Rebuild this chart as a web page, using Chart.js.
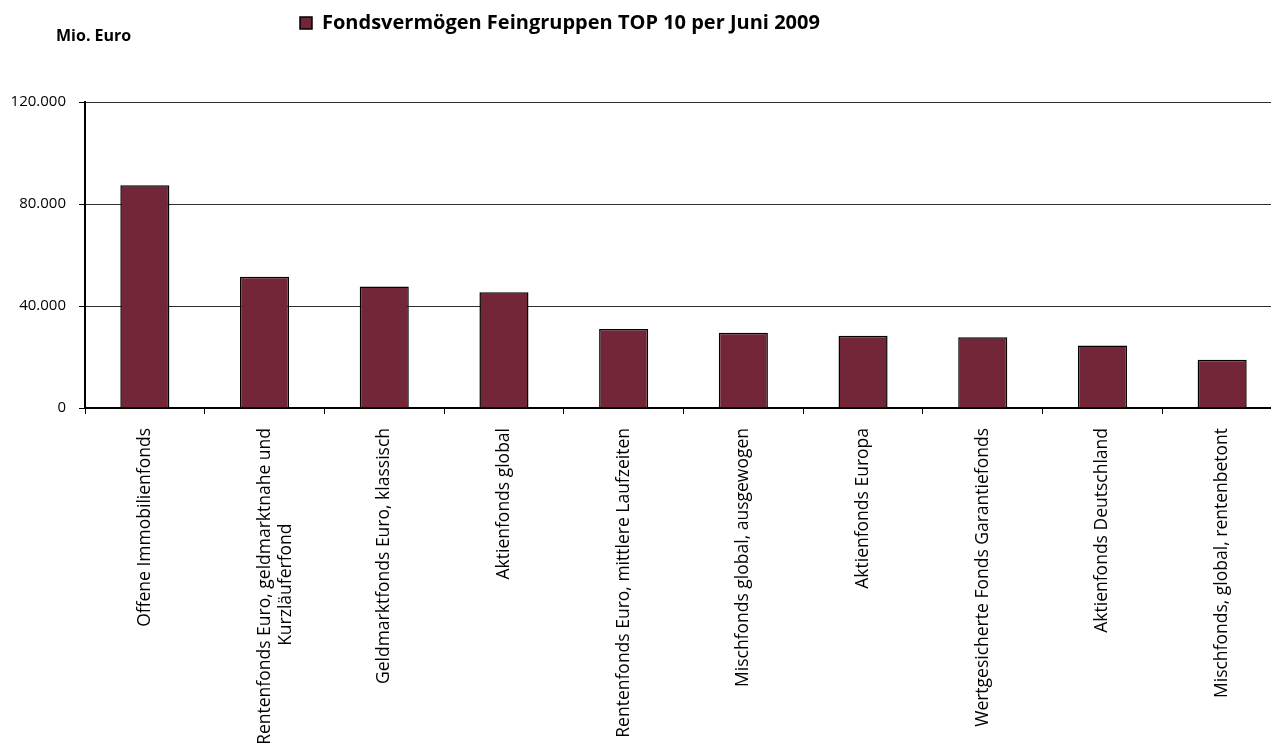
<!DOCTYPE html>
<html lang="de">
<head>
<meta charset="utf-8">
<title>Fondsvermögen Feingruppen TOP 10 per Juni 2009</title>
<script src="https://cdn.jsdelivr.net/npm/chart.js@4.4.1/dist/chart.umd.min.js"></script>
<style>
  html, body { margin: 0; padding: 0; background: #fff; overflow: hidden; }
  #wrap { width: 1284px; height: 747px; }
</style>
</head>
<body>
<div id="wrap"><canvas id="fondsChart"></canvas></div>
<script>
// Daten (Mio. Euro)
const kategorien = [
    "Offene Immobilienfonds",
    ["Rentenfonds Euro, geldmarktnahe und", "Kurzläuferfond"],
    "Geldmarktfonds Euro, klassisch",
    "Aktienfonds global",
    "Rentenfonds Euro, mittlere Laufzeiten",
    "Mischfonds global, ausgewogen",
    "Aktienfonds Europa",
    "Wertgesicherte Fonds Garantiefonds",
    "Aktienfonds Deutschland",
    "Mischfonds, global, rentenbetont",
];
const fondsvermoegen = [87400, 51500, 47700, 45400, 31000, 29500, 28400, 27800, 24500, 18900];
const yTicks = [0, 40000, 80000, 120000];
const serienName = "Fondsvermögen Feingruppen TOP 10 per Juni 2009";
const einheit = "Mio. Euro";

const labelFont = { family: "'Open Sans', sans-serif", size: 17.5 };

// zweite Zeile eines zweizeiligen Labels mittig setzen (Chart.js richtet gedrehte Labels rechts aus)
function zentriereZeilen(zeilen) {
    const c = document.createElement("canvas").getContext("2d");
    c.font = labelFont.size + "px " + labelFont.family;
    const breite = Math.max(...zeilen.map((z) => c.measureText(z).width));
    const leer = c.measureText(" ").width;
    return zeilen.map((z) => z + " ".repeat(Math.round((breite - c.measureText(z).width) / 2 / leer)));
}
const xLabels = kategorien.map((k) => (Array.isArray(k) ? zentriereZeilen(k) : k));

const formatDE = (v) => String(v).replace(/\B(?=(\d{3})+(?!\d))/g, ".");

// Legende und Einheit an die Stellen wie im Original schieben
const kopfPosition = {
    id: "kopfPosition",
    afterLayout(chart) {
        const lg = chart.legend;
        lg.left = 290;
        lg.top = 3;
        const tb = chart.titleBlock;
        tb.left = 56;
        tb.top = 27;
    },
};

const ctx = document.getElementById("fondsChart").getContext("2d");
new Chart(ctx, {
    type: "bar",
    data: {
        labels: xLabels,
        datasets: [
            {
                label: serienName,
                data: fondsvermoegen,
                backgroundColor: "#722637",
                borderColor: "#000",
                borderWidth: 1.5,
                categoryPercentage: 0.41,
                barPercentage: 1,
            },
        ],
    },
    options: {
        responsive: true,
        maintainAspectRatio: false,
        animation: false,
        layout: { padding: { top: 0, left: 0, right: 2, bottom: 0 } },
        scales: {
            y: {
                min: 0,
                max: 120000,
                afterBuildTicks: (scale) => {
                    scale.ticks = yTicks.map((v) => ({ value: v }));
                },
                afterFit: (scale) => {
                    scale.width = 85;
                },
                ticks: {
                    color: "#000",
                    padding: 13,
                    font: { family: "'Open Sans', sans-serif", size: 15 },
                    callback: (v) => formatDE(v),
                },
                grid: {
                    color: "#2e2e2e",
                    lineWidth: 1,
                    tickColor: "#000",
                    tickLength: 6,
                },
                border: { display: true, color: "#000", width: 2 },
            },
            x: {
                afterFit: (scale) => {
                    scale.height = 339;
                },
                ticks: {
                    color: "#000",
                    minRotation: 90,
                    maxRotation: 90,
                    autoSkip: false,
                    padding: 14,
                    font: labelFont,
                },
                grid: {
                    offset: true,
                    drawOnChartArea: false,
                    drawTicks: true,
                    tickLength: 6,
                    tickColor: "#000",
                    color: "#000",
                },
                border: { display: true, color: "#000", width: 2 },
            },
        },
        plugins: {
            legend: {
                display: true,
                position: "top",
                align: "start",
                labels: {
                    boxWidth: 12,
                    boxHeight: 12,
                    color: "#000",
                    font: { family: "'Open Sans', sans-serif", size: 20, weight: "bold" },
                },
            },
            title: {
                display: true,
                text: einheit,
                align: "start",
                color: "#000",
                font: { family: "'Open Sans', sans-serif", size: 16, weight: "bold" },
                padding: { top: 0, bottom: 43 },
            },
            tooltip: { enabled: false },
        },
    },
    plugins: [kopfPosition],
});
</script>
</body>
</html>
